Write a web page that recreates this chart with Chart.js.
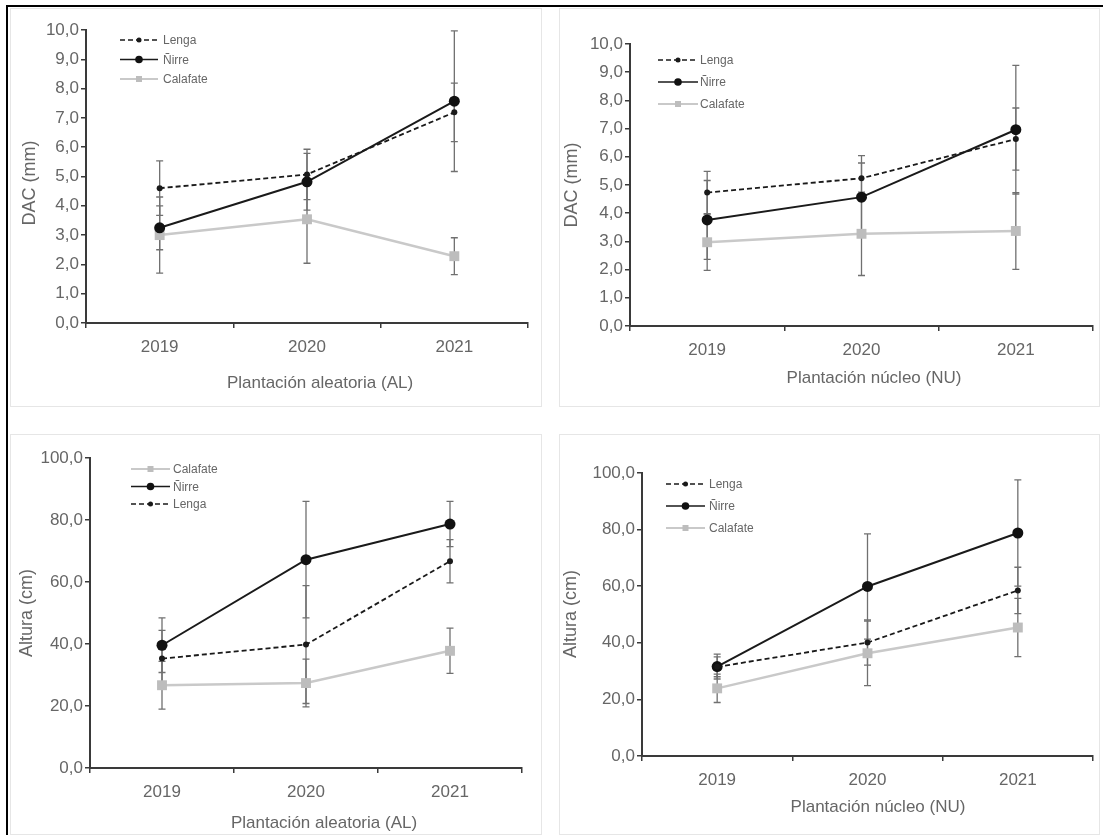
<!DOCTYPE html>
<html>
<head>
<meta charset="utf-8">
<title>DAC y altura por plantación</title>
<script src="https://cdn.jsdelivr.net/npm/chart.js@4.4.1/dist/chart.umd.min.js"></script>
<style>
    body { margin: 0; background: #fff; width: 1103px; height: 835px; position: relative; overflow: hidden; }
    .frame { position: absolute; border: 1px solid #e6e6e6; box-sizing: border-box; }
    canvas { position: absolute; }
    #edgeTop { position: absolute; left: 6px; top: 5px; width: 1097px; height: 2px; background: #000; }
    #edgeLeft { position: absolute; left: 6px; top: 5px; width: 2px; height: 830px; background: #000; }
</style>
</head>
<body>
<div class="frame" id="frameTL"></div>
<div class="frame" id="frameTR"></div>
<div class="frame" id="frameBL"></div>
<div class="frame" id="frameBR"></div>
<canvas id="dacAL"></canvas>
<canvas id="dacNU"></canvas>
<canvas id="altAL"></canvas>
<canvas id="altNU"></canvas>
<div id="edgeTop"></div>
<div id="edgeLeft"></div>

<script>
// values (mean and +/- error for each year)
const years = ['2019', '2020', '2021'];

const dacAlLenga = [4.6, 5.07, 7.19];
const dacAlLengaErr = [0.93, 0.86, 1.0];
const dacAlNirre = [3.25, 4.82, 7.57];
const dacAlNirreErr = [0.75, 0.97, 2.4];
const dacAlCalafate = [3.0, 3.54, 2.28];
const dacAlCalafateErr = [1.3, 1.5, 0.63];

const dacNuLenga = [4.73, 5.24, 6.63];
const dacNuLengaErr = [0.75, 0.8, 1.1];
const dacNuNirre = [3.76, 4.57, 6.96];
const dacNuNirreErr = [1.4, 1.21, 2.28];
const dacNuCalafate = [2.97, 3.27, 3.37];
const dacNuCalafateErr = [1.0, 1.48, 1.36];

const altAlCalafate = [26.7, 27.4, 37.8];
const altAlCalafateErr = [7.7, 7.7, 7.3];
const altAlNirre = [39.6, 67.2, 78.7];
const altAlNirreErr = [8.8, 18.8, 7.3];
const altAlLenga = [35.3, 39.8, 66.7];
const altAlLengaErr = [9.1, 19.0, 7.0];

const altNuLenga = [31.5, 40.1, 58.5];
const altNuLengaErr = [3.5, 8.0, 8.2];
const altNuNirre = [31.6, 59.9, 78.8];
const altNuNirreErr = [4.4, 18.6, 18.8];
const altNuCalafate = [23.9, 36.3, 45.4];
const altNuCalafateErr = [5.0, 11.4, 10.3];

const TEXT = '#666666';
const AXIS = '#3a3a3a';
const FONT = '"Liberation Sans", Arial, sans-serif';
const Y_W = 60;
const X_H = 40;

Chart.defaults.font.family = FONT;

function lengaSet(values, errors) {
    return { label: 'Lenga', data: values, errors: errors,
        borderColor: '#1a1a1a', borderWidth: 1.8, borderDash: [5, 3],
        pointStyle: 'circle', pointRadius: 3, pointBackgroundColor: '#1a1a1a', pointBorderWidth: 0,
        legendRadius: 2.5, clip: false };
}

function nirreSet(values, errors) {
    return { label: 'Ñirre', data: values, errors: errors,
        borderColor: '#1a1a1a', borderWidth: 2,
        pointStyle: 'circle', pointRadius: 5.5, pointBackgroundColor: '#111', pointBorderWidth: 0,
        legendRadius: 3.8, clip: false };
}

function calafateSet(values, errors) {
    return { label: 'Calafate', data: values, errors: errors,
        borderColor: '#c9c9c9', borderWidth: 2.5,
        pointStyle: 'rect', pointRadius: 7, pointBackgroundColor: '#bdbdbd', pointBorderWidth: 0,
        legendRadius: 4, clip: false };
}

const errorBars = {
    id: 'errorBars',
    beforeDatasetsDraw(chart) {
        const ctx = chart.ctx;
        const x = chart.scales.x;
        const y = chart.scales.y;
        ctx.save();
        ctx.strokeStyle = '#707070';
        ctx.lineWidth = 1.3;
        chart.data.datasets.forEach(function(ds) {
            ds.data.forEach(function(v, i) {
                const px = x.getPixelForValue(i);
                const top = y.getPixelForValue(v + ds.errors[i]);
                const bot = y.getPixelForValue(v - ds.errors[i]);
                ctx.beginPath();
                ctx.moveTo(px, top); ctx.lineTo(px, bot);
                ctx.moveTo(px - 3.5, top); ctx.lineTo(px + 3.5, top);
                ctx.moveTo(px - 3.5, bot); ctx.lineTo(px + 3.5, bot);
                ctx.stroke();
            });
        });
        ctx.restore();
    }
};

function drawMarker(ctx, ds, x, y, r) {
    ctx.fillStyle = ds.pointBackgroundColor;
    if (ds.pointStyle === 'rect') {
        ctx.fillRect(x - r * 0.75, y - r * 0.75, r * 1.5, r * 1.5);
    } else {
        ctx.beginPath();
        ctx.arc(x, y, r, 0, Math.PI * 2);
        ctx.fill();
    }
}

// legend drawn inside the plot, top left, like the original
const panelLegend = {
    id: 'panelLegend',
    afterDraw(chart, args, opts) {
        const ctx = chart.ctx;
        chart.data.datasets.forEach(function(ds, i) {
            const y = opts.y + i * opts.gap;
            ctx.save();
            ctx.strokeStyle = ds.borderColor;
            ctx.lineWidth = ds.borderWidth * 0.8;
            ctx.setLineDash(ds.borderDash || []);
            ctx.beginPath();
            ctx.moveTo(opts.x, y);
            ctx.lineTo(opts.x + opts.len, y);
            ctx.stroke();
            ctx.setLineDash([]);
            drawMarker(ctx, ds, opts.x + opts.len / 2, y, ds.legendRadius);
            ctx.fillStyle = TEXT;
            ctx.font = '12px ' + FONT;
            ctx.textBaseline = 'middle';
            ctx.fillText(ds.label, opts.tx, y + 1);
            ctx.restore();
        });
    }
};

const axisTitles = {
    id: 'axisTitles',
    afterDraw(chart, args, opts) {
        const ctx = chart.ctx;
        ctx.save();
        ctx.fillStyle = TEXT;
        ctx.textAlign = 'center';
        ctx.textBaseline = 'middle';
        ctx.font = '17px ' + FONT;
        ctx.fillText(opts.xText, opts.xCx, opts.xCy);
        ctx.font = '18px ' + FONT;
        ctx.translate(opts.yCx, opts.yCy);
        ctx.rotate(-Math.PI / 2);
        ctx.fillText(opts.yText, 0, 0);
        ctx.restore();
    }
};

function placeFrame(id, box) {
    const el = document.getElementById(id);
    el.style.left = box.x + 'px';
    el.style.top = box.y + 'px';
    el.style.width = box.w + 'px';
    el.style.height = box.h + 'px';
}

function buildChart(canvasId, box, area, yMax, yStep, datasets, titles, legend) {
    const canvas = document.getElementById(canvasId);
    canvas.width = box.w;
    canvas.height = box.h;
    canvas.style.left = box.x + 'px';
    canvas.style.top = box.y + 'px';

    return new Chart(canvas, {
        type: 'line',
        data: { labels: years, datasets: datasets },
        options: {
            responsive: false,
            animation: false,
            devicePixelRatio: 1,
            layout: {
                padding: {
                    left: area.l - box.x - Y_W,
                    top: area.t - box.y,
                    right: box.x + box.w - area.r,
                    bottom: box.y + box.h - area.b - X_H
                }
            },
            plugins: {
                legend: { display: false },
                tooltip: { enabled: false },
                panelLegend: legend,
                axisTitles: titles
            },
            scales: {
                x: {
                    offset: true,
                    grid: { offset: true, drawOnChartArea: false, color: AXIS, tickLength: 5, lineWidth: 1.5 },
                    border: { color: AXIS, width: 2 },
                    ticks: { color: TEXT, font: { size: 17 }, padding: 9 },
                    afterFit: function(s) { s.height = X_H; s.paddingLeft = 0; s.paddingRight = 0; }
                },
                y: {
                    min: 0,
                    max: yMax,
                    grid: { drawOnChartArea: false, color: AXIS, tickLength: 5, lineWidth: 1.5 },
                    border: { color: AXIS, width: 2 },
                    ticks: {
                        stepSize: yStep,
                        color: TEXT,
                        font: { size: 17 },
                        padding: 2,
                        callback: function(v) { return v.toFixed(1).replace('.', ','); }
                    },
                    afterFit: function(s) { s.width = Y_W; s.paddingTop = 0; s.paddingBottom = 0; }
                }
            }
        },
        plugins: [errorBars, panelLegend, axisTitles]
    });
}

const boxTL = { x: 10, y: 8, w: 532, h: 399 };
const boxTR = { x: 559, y: 8, w: 541, h: 399 };
const boxBL = { x: 10, y: 434, w: 532, h: 401 };
const boxBR = { x: 559, y: 434, w: 541, h: 401 };

placeFrame('frameTL', boxTL);
placeFrame('frameTR', boxTR);
placeFrame('frameBL', boxBL);
placeFrame('frameBR', boxBR);

buildChart('dacAL', boxTL, { l: 86, r: 528, t: 30, b: 323 }, 10, 1,
    [lengaSet(dacAlLenga, dacAlLengaErr), nirreSet(dacAlNirre, dacAlNirreErr), calafateSet(dacAlCalafate, dacAlCalafateErr)],
    { xText: 'Plantación aleatoria (AL)', xCx: 310, xCy: 375, yText: 'DAC (mm)', yCx: 20, yCy: 175 },
    { x: 110, len: 38, tx: 153, y: 32, gap: 19.5 });

buildChart('dacNU', boxTR, { l: 630, r: 1096, t: 44, b: 326 }, 10, 1,
    [lengaSet(dacNuLenga, dacNuLengaErr), nirreSet(dacNuNirre, dacNuNirreErr), calafateSet(dacNuCalafate, dacNuCalafateErr)],
    { xText: 'Plantación núcleo (NU)', xCx: 315, xCy: 370, yText: 'DAC (mm)', yCx: 13, yCy: 177 },
    { x: 99, len: 40, tx: 141, y: 52, gap: 22 });

buildChart('altAL', boxBL, { l: 90, r: 522, t: 458, b: 768 }, 100, 20,
    [calafateSet(altAlCalafate, altAlCalafateErr), nirreSet(altAlNirre, altAlNirreErr), lengaSet(altAlLenga, altAlLengaErr)],
    { xText: 'Plantación aleatoria (AL)', xCx: 314, xCy: 389, yText: 'Altura (cm)', yCx: 17, yCy: 179 },
    { x: 121, len: 39, tx: 163, y: 35, gap: 17.5 });

buildChart('altNU', boxBR, { l: 642, r: 1096, t: 473, b: 756 }, 100, 20,
    [lengaSet(altNuLenga, altNuLengaErr), nirreSet(altNuNirre, altNuNirreErr), calafateSet(altNuCalafate, altNuCalafateErr)],
    { xText: 'Plantación núcleo (NU)', xCx: 319, xCy: 373, yText: 'Altura (cm)', yCx: 12, yCy: 180 },
    { x: 107, len: 39, tx: 150, y: 50, gap: 22 });
</script>
</body>
</html>
